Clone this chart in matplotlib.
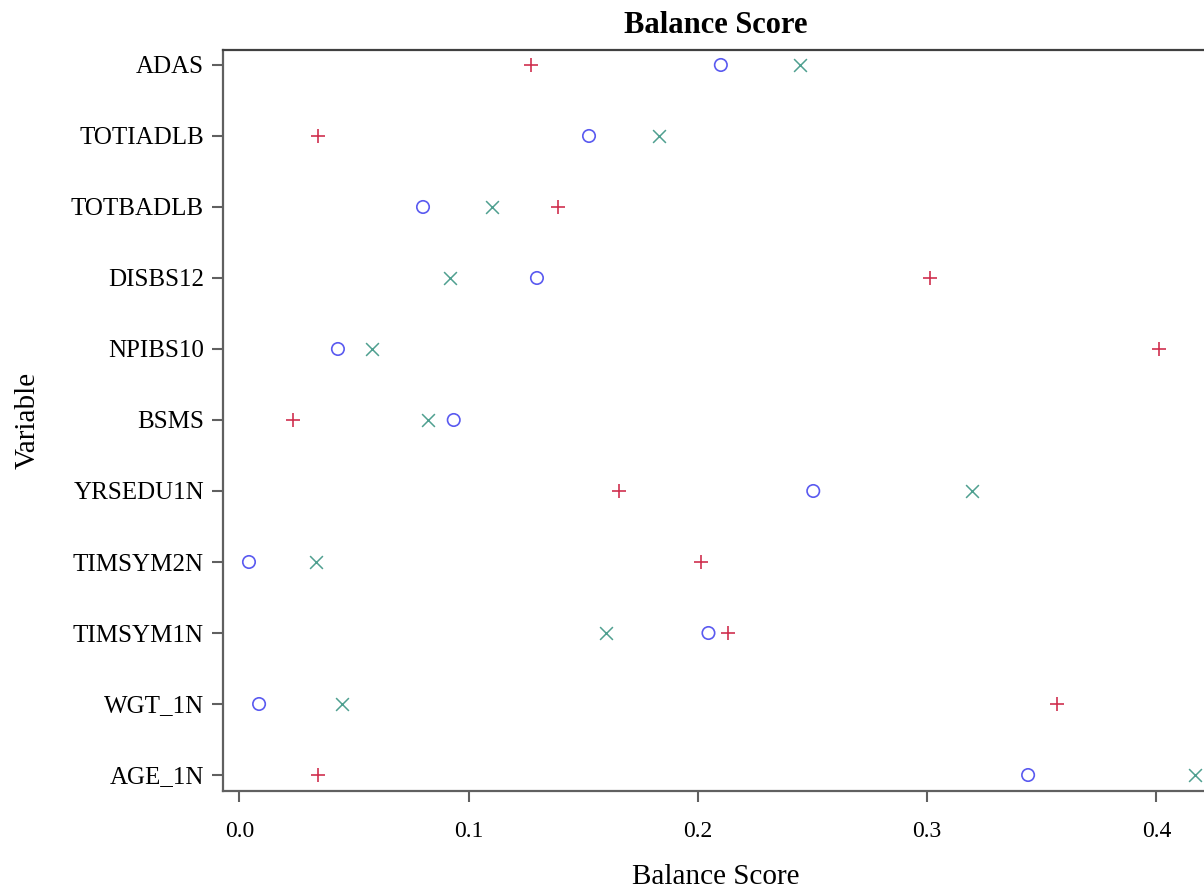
import matplotlib
matplotlib.use("Agg")
import matplotlib.pyplot as plt

# Kategorien von oben nach unten
variables = ["ADAS", "TOTIADLB", "TOTBADLB", "DISBS12", "NPIBS10", "BSMS",
             "YRSEDU1N", "TIMSYM2N", "TIMSYM1N", "WGT_1N", "AGE_1N"]

# drei Serien (+, o, x)
plus_vals = [0.1272, 0.0343, 0.1390, 0.3011, 0.4011, 0.0234,
             0.1655, 0.2012, 0.2131, 0.3566, 0.0341]
circle_vals = [0.2100, 0.1525, 0.0801, 0.1298, 0.0430, 0.0935,
               0.2503, 0.0042, 0.2046, 0.0086, 0.3440]
cross_vals = [0.2445, 0.1829, 0.1104, 0.0917, 0.0579, 0.0822,
              0.3194, 0.0334, 0.1598, 0.0449, 0.4170]

xticks = [0.0, 0.1, 0.2, 0.3, 0.4]

plt.rcParams['font.family'] = ['Liberation Serif', 'DejaVu Serif']

fig = plt.figure(figsize=(12.04, 8.9), dpi=100)
ax = fig.add_axes([223.3 / 1204, 1 - 790.7 / 890, (1209 - 223.3) / 1204, (790.7 - 50) / 890])

n = len(variables)
ypos = [n - 1 - i for i in range(n)]

ax.scatter(plus_vals, ypos, marker='+', s=110, color='#D0304F', linewidths=1.2, zorder=3)
ax.scatter(circle_vals, ypos, marker='o', s=80, facecolors='none', edgecolors='#5A5AF0', linewidths=1.2, zorder=3)
ax.scatter(cross_vals, ypos, marker='x', s=85, color='#4FA090', linewidths=1.1, zorder=3)

ax.set_xlim(-0.007, 0.4229)
ax.set_ylim(-0.221, n - 1 + 0.211)
ax.set_yticks(ypos)
ax.set_yticklabels(variables)
ax.set_xticks(xticks)
ax.set_xticklabels([f"{t:.1f}" for t in xticks])

for side in ['left', 'top', 'bottom', 'right']:
    ax.spines[side].set_color('#606060')
    ax.spines[side].set_linewidth(1.6)
ax.spines['top'].set_color('#404040')

ax.tick_params(axis='both', direction='out', length=8, width=1.5, color='#606060',
               labelcolor='black')
ax.tick_params(axis='x', labelsize=17, pad=14)
ax.tick_params(axis='y', labelsize=18, pad=6)

ax.set_xlabel('Balance Score', fontsize=21)
ax.xaxis.set_label_coords(0.5 - (1209 + 223.3 - 2 * 716) / 2 / 985.7, (790.7 - 877) / 740.7)
ax.xaxis.label.set_va('center')
ax.set_ylabel('Variable', fontsize=21)
ax.yaxis.set_label_coords((28 - 223.3) / 985.7, 0.5)
ax.yaxis.label.set_va('center')
ax.set_title('Balance Score', fontsize=22, fontweight='bold', pad=12)

fig.savefig('out.png', dpi=100)
